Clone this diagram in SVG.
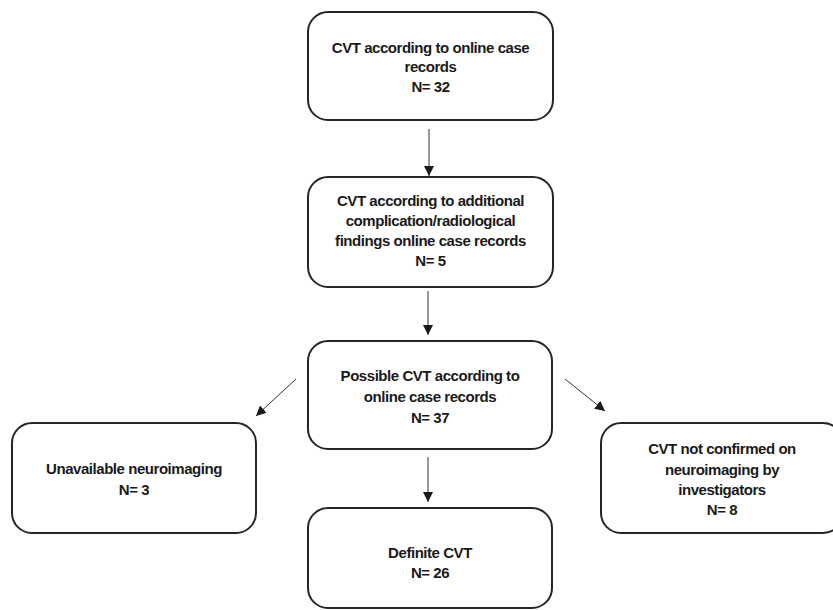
<svg xmlns="http://www.w3.org/2000/svg" width="833" height="610" viewBox="0 0 833 610">
<defs>
<style>
.box{fill:#fff;stroke:#262626;stroke-width:2}
.t{font-family:"Liberation Sans",Arial,sans-serif;font-weight:bold;font-size:15px;fill:#1a1a1a;text-anchor:middle;letter-spacing:-0.45px}
.c{stroke:#333;stroke-width:1;fill:none;marker-end:url(#ah)}
</style>
<marker id="ah" viewBox="0 0 10 10" refX="10" refY="5" markerWidth="10" markerHeight="10" markerUnits="userSpaceOnUse" orient="auto">
<path d="M0,0 L10,5 L0,10 z" fill="#1a1a1a"/>
</marker>
</defs>
<rect width="833" height="610" fill="#fff"/>
<g id="connectors">
<line class="c" x1="429" y1="129" x2="429" y2="176"/>
<line class="c" x1="428" y1="291" x2="428" y2="335"/>
<line class="c" x1="428" y1="457" x2="428" y2="502"/>
<line class="c" x1="296" y1="379" x2="256" y2="416"/>
<line class="c" x1="565" y1="379" x2="605" y2="411"/>
</g>
<g id="n1">
<rect class="box" x="308" y="12" width="245" height="108" rx="20"/>
<text class="t" x="430.5" y="53">CVT according to online case</text>
<text class="t" x="430.5" y="72">records</text>
<text class="t" x="430.5" y="92">N= 32</text>
</g>
<g id="n2">
<rect class="box" x="308" y="177" width="245" height="110" rx="20"/>
<text class="t" x="430.5" y="206">CVT according to additional</text>
<text class="t" x="430.5" y="226">complication/radiological</text>
<text class="t" x="430.5" y="246">findings online case records</text>
<text class="t" x="430.5" y="266">N= 5</text>
</g>
<g id="n3">
<rect class="box" x="308" y="341" width="244" height="108" rx="20"/>
<text class="t" x="430" y="381">Possible CVT according to</text>
<text class="t" x="430" y="402">online case records</text>
<text class="t" x="430" y="423">N= 37</text>
</g>
<g id="n4">
<rect class="box" x="12" y="423" width="244" height="110" rx="20"/>
<text class="t" x="134" y="474">Unavailable neuroimaging</text>
<text class="t" x="134" y="495">N= 3</text>
</g>
<g id="n5">
<rect class="box" x="601" y="423" width="242" height="110" rx="20"/>
<text class="t" x="722" y="454">CVT not confirmed on</text>
<text class="t" x="722" y="475">neuroimaging by</text>
<text class="t" x="722" y="495">investigators</text>
<text class="t" x="722" y="515">N= 8</text>
</g>
<g id="n6">
<rect class="box" x="308" y="508" width="244" height="100" rx="20"/>
<text class="t" x="430" y="558">Definite CVT</text>
<text class="t" x="430" y="578">N= 26</text>
</g>
</svg>
